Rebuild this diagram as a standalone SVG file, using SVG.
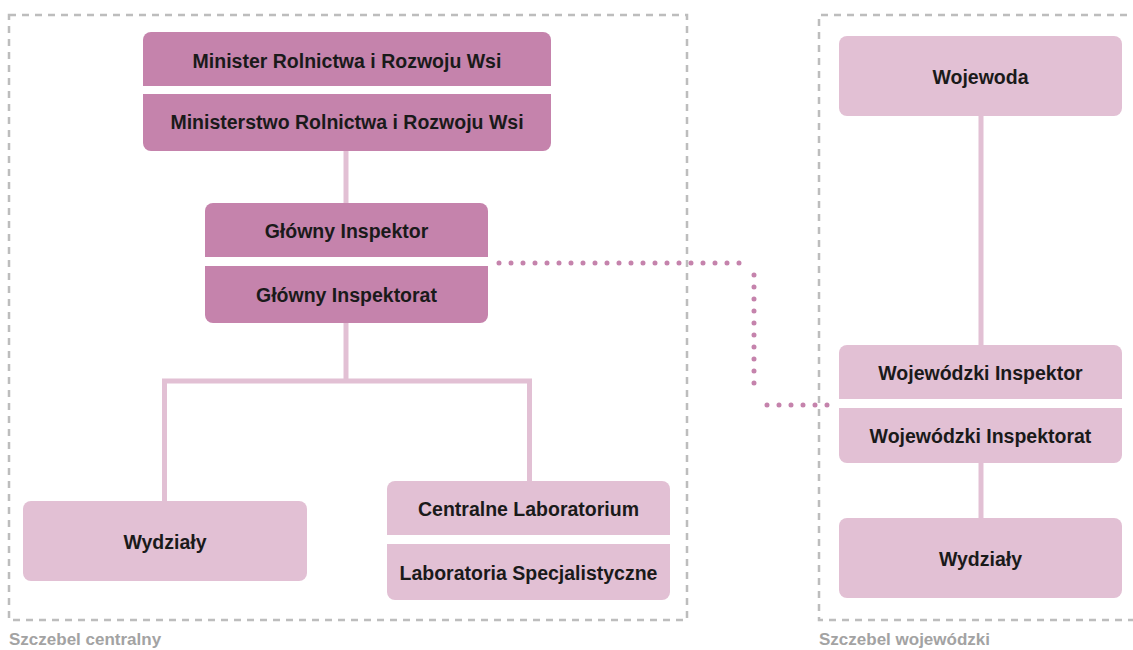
<svg xmlns="http://www.w3.org/2000/svg" width="1133" height="650" viewBox="0 0 1133 650">
<style>
.dark{fill:#C583AC}
.light{fill:#E2C0D4}
.band{fill:#FFFFFF}
.t{font-family:"Liberation Sans",Arial,sans-serif;font-weight:bold;font-size:19.5px;fill:#1A1A1A;text-anchor:middle}
.lbl{font-family:"Liberation Sans",Arial,sans-serif;font-weight:bold;font-size:17px;fill:#A3A3A3}
.frame{fill:none;stroke:#BDBDBD;stroke-width:2.5;stroke-dasharray:7 6}
.conn{fill:none;stroke:#E2C0D4;stroke-width:5;stroke-linejoin:miter;stroke-linecap:butt}
.dots{fill:none;stroke:#C583AC;stroke-width:5;stroke-linecap:round;stroke-dasharray:0 12}
</style>
<rect width="1133" height="650" fill="#FFFFFF"/>
<g id="frames">
<rect class="frame" x="9" y="15" width="678" height="605"/>
<path class="frame" d="M1140,15 H819 V620 H1140"/>
<text class="lbl" x="9" y="645">Szczebel centralny</text>
<text class="lbl" x="819" y="645">Szczebel wojewódzki</text>
</g>
<g id="connectors">
<path class="conn" d="M346,151 V203"/>
<path class="conn" d="M346,323 V381"/>
<path class="conn" d="M164.5,501 V381 H529.5 V481"/>
<path class="conn" d="M981,116 V345"/>
<path class="conn" d="M981,463 V518"/>
<path class="dots" d="M499,263 H751"/>
<path class="dots" d="M754,275 V395"/>
<path class="dots" d="M767,405 H839"/>
</g>
<g id="minister">
<rect class="dark" x="143" y="32" width="408" height="119" rx="8"/>
<rect class="band" x="143" y="86" width="408" height="8"/>
<text class="t" x="347" y="68">Minister Rolnictwa i Rozwoju Wsi</text>
<text class="t" x="347" y="129">Ministerstwo Rolnictwa i Rozwoju Wsi</text>
</g>
<g id="glowny">
<rect class="dark" x="205" y="203" width="283" height="120" rx="8"/>
<rect class="band" x="205" y="257" width="283" height="9"/>
<text class="t" x="346.5" y="238">Główny Inspektor</text>
<text class="t" x="346.5" y="302">Główny Inspektorat</text>
</g>
<g id="wydzialy-central">
<rect class="light" x="23" y="501" width="284" height="80" rx="8"/>
<text class="t" x="165" y="548.5">Wydziały</text>
</g>
<g id="laboratoria">
<rect class="light" x="387" y="481" width="283" height="119" rx="8"/>
<rect class="band" x="387" y="535" width="283" height="9"/>
<text class="t" x="528.5" y="515.5">Centralne Laboratorium</text>
<text class="t" x="528.5" y="579.5">Laboratoria Specjalistyczne</text>
</g>
<g id="wojewoda">
<rect class="light" x="839" y="36" width="283" height="80" rx="8"/>
<text class="t" x="980.5" y="84">Wojewoda</text>
</g>
<g id="wojewodzki">
<rect class="light" x="839" y="345" width="283" height="118" rx="8"/>
<rect class="band" x="839" y="399" width="283" height="9"/>
<text class="t" x="980.5" y="380">Wojewódzki Inspektor</text>
<text class="t" x="980.5" y="443">Wojewódzki Inspektorat</text>
</g>
<g id="wydzialy-woj">
<rect class="light" x="839" y="518" width="283" height="80" rx="8"/>
<text class="t" x="980.5" y="565.5">Wydziały</text>
</g>
</svg>
